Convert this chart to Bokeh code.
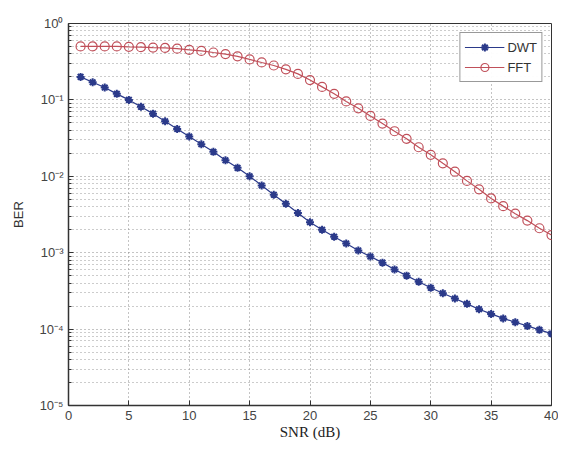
from bokeh.plotting import figure
from bokeh.models import FixedTicker, CustomJSTickFormatter, Legend, LegendItem, Range1d
from bokeh.embed import file_html
from bokeh.resources import INLINE

snr = list(range(1, 41))
ber_dwt = [0.200, 0.170, 0.145, 0.120, 0.100, 0.0813, 0.0661, 0.0525, 0.0417, 0.0331,
           0.0263, 0.0209, 0.0162, 0.0129, 0.0100, 0.00759, 0.00575, 0.00437, 0.00331, 0.00251,
           0.00200, 0.00162, 0.00132, 0.00107, 0.000891, 0.000741, 0.000603, 0.000501, 0.000417, 0.000347,
           0.000295, 0.000251, 0.000214, 0.000182, 0.000158, 0.000138, 0.000123, 0.000110, 0.0000977, 0.0000871]
ber_fft = [0.501, 0.501, 0.501, 0.501, 0.495, 0.490, 0.484, 0.479, 0.468, 0.452,
           0.437, 0.417, 0.398, 0.372, 0.339, 0.309, 0.282, 0.251, 0.219, 0.182,
           0.148, 0.120, 0.0955, 0.0776, 0.0617, 0.0490, 0.0389, 0.0309, 0.0240, 0.0191,
           0.0148, 0.0115, 0.00871, 0.00676, 0.00513, 0.00407, 0.00324, 0.00263, 0.00209, 0.00170]
x_ticks = [0, 5, 10, 15, 20, 25, 30, 35, 40]
y_ticks = [1e-5, 1e-4, 1e-3, 1e-2, 1e-1, 1.0]
y_minor = [k * 10.0 ** e for e in range(-5, 0) for k in range(2, 10)]

p = figure(width=558, height=443, y_axis_type="log", output_backend="svg",
           toolbar_location=None, x_range=Range1d(0, 40), y_range=Range1d(1e-5, 1),
           min_border_left=68, min_border_right=7, min_border_top=23, min_border_bottom=38)
p.background_fill_color = "white"
p.border_fill_color = "white"
p.outline_line_color = "#333333"
p.outline_line_width = 1

p.xaxis.ticker = FixedTicker(ticks=x_ticks)
p.yaxis.ticker = FixedTicker(ticks=y_ticks, minor_ticks=y_minor)
p.yaxis.formatter = CustomJSTickFormatter(code="""
const e = Math.round(Math.log10(tick));
const sup = {'-':'\u207b','0':'\u2070','1':'\u00b9','2':'\u00b2','3':'\u00b3','4':'\u2074','5':'\u2075','6':'\u2076','7':'\u2077','8':'\u2078','9':'\u2079'};
return '10' + String(e).split('').map(c => sup[c]).join('');
""")

for ax in (p.xaxis[0], p.yaxis[0]):
    ax.major_tick_in = 5
    ax.major_tick_out = 0
    ax.minor_tick_in = 3
    ax.minor_tick_out = 0
    ax.axis_line_color = "#333333"
    ax.axis_line_width = 1.5
    ax.major_tick_line_color = "#333333"
    ax.minor_tick_line_color = "#333333"
    ax.major_label_text_font = "Liberation Sans"
    ax.major_label_text_font_size = "13px"
    ax.major_label_text_color = "#444444"
    ax.major_label_standoff = 5
p.xaxis.minor_tick_line_color = None

p.xaxis.axis_label = "SNR (dB)"
p.xaxis.axis_label_text_font = "Liberation Serif"
p.xaxis.axis_label_text_font_style = "normal"
p.xaxis.axis_label_text_font_size = "15px"
p.xaxis.axis_label_text_color = "#222222"
p.xaxis.axis_label_standoff = 1
p.yaxis.axis_label = "BER"
p.yaxis.axis_label_text_font = "Liberation Sans"
p.yaxis.axis_label_text_font_style = "normal"
p.yaxis.axis_label_text_font_size = "13px"
p.yaxis.axis_label_text_color = "#333333"
p.yaxis.axis_label_standoff = 10

p.xgrid.grid_line_color = "#888888"
p.xgrid.grid_line_dash = "1 3"
p.ygrid.grid_line_color = "#888888"
p.ygrid.grid_line_dash = "1 3"
p.ygrid.minor_grid_line_color = "#999999"
p.ygrid.minor_grid_line_dash = "1 3"

dwt_color = "#2b3a8a"
fft_color = "#c0505a"

l1 = p.line(snr, ber_dwt, line_color=dwt_color, line_width=1.2)
m1 = p.scatter(snr, ber_dwt, marker="asterisk", size=8, line_color=dwt_color, line_width=2)
l2 = p.line(snr, ber_fft, line_color=fft_color, line_width=1.2)
m2 = p.scatter(snr, ber_fft, marker="circle", size=9, line_color=fft_color, fill_color=None, line_width=1.2)

legend = Legend(items=[LegendItem(label="DWT", renderers=[l1, m1]),
                       LegendItem(label="FFT", renderers=[l2, m2])],
                location="top_right")
legend.border_line_color = "#333333"
legend.border_line_width = 1.5
legend.label_text_font = "Liberation Sans"
legend.label_text_font_size = "13px"
legend.label_text_color = "#333333"
legend.glyph_width = 40
legend.spacing = 0
legend.padding = 4
legend.margin = 9
legend.label_standoff = 3
p.add_layout(legend)

open("out.html", "w").write(file_html(p, INLINE))
